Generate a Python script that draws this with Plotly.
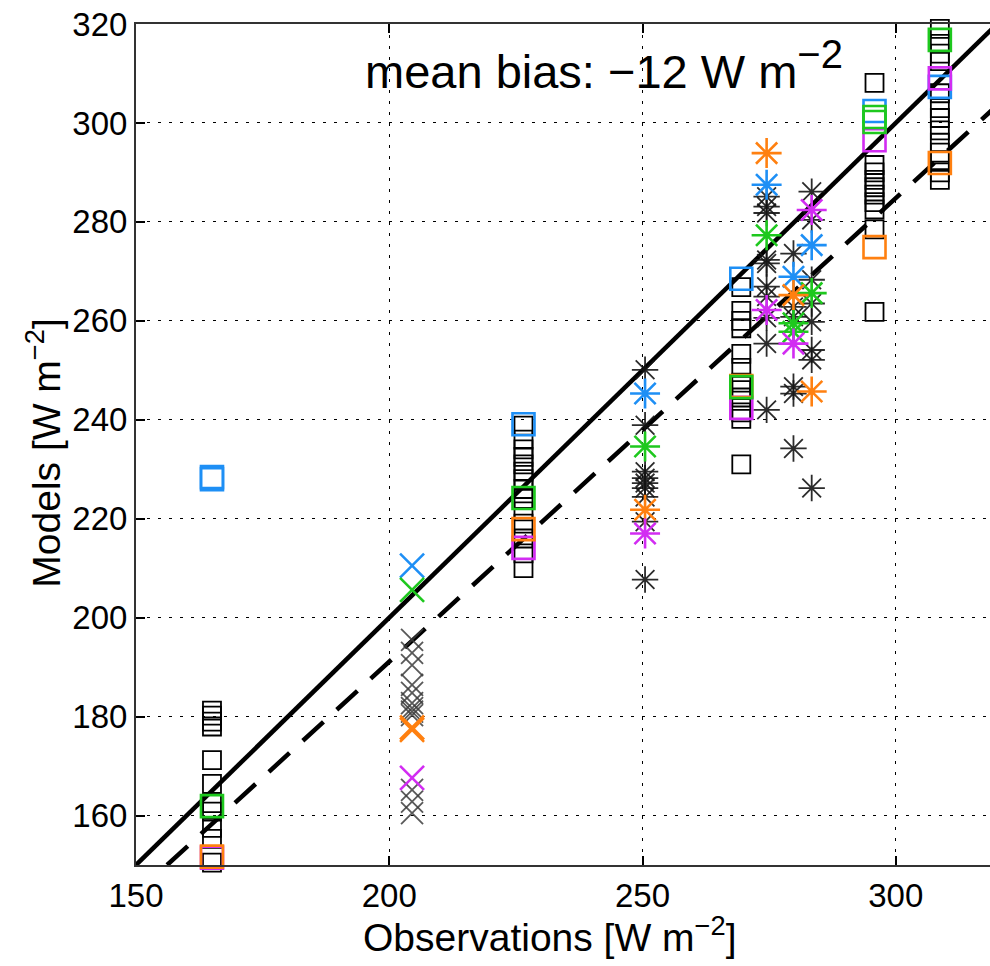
import plotly.graph_objects as go

# ---------------- data ----------------
# black open squares
sq_black_x = [165]*11 + [226.5]*14 + [269.5]*12 + [295.8]*10 + [308.7]*13
sq_black_y = [181.2, 180.2, 179, 178, 171.2, 166.4, 162.5, 160.8, 157.5, 155.3, 150.5,
              238.8, 236, 234, 232.5, 231, 229.5, 228, 226, 224, 221.5, 219, 216, 213, 210,
              266.8, 262, 260, 258.5, 253.3, 250.5, 247.5, 246, 244.5, 241.5, 240.2, 231,
              308.1, 291.5, 290, 288.5, 287, 285.5, 284, 282.5, 278.5, 261.8,
              319, 316, 314, 312.5, 306, 303, 301, 298.5, 296, 294, 292.5, 290, 288.5]

# coloured squares
sq_blue_x = [165, 165, 226.5, 269.5, 295.8, 308.7]
sq_blue_y = [228.0, 228.4, 239.1, 268.5, 302.4, 307.3]
sq_green_x = [165, 226.5, 269.5, 295.8, 295.8, 308.7]
sq_green_y = [161.9, 224.2, 246.6, 301.2, 300.2, 316.8]
sq_orange_x = [165, 226.5, 269.5, 295.8, 308.7]
sq_orange_y = [151.7, 217.9, 246.8, 274.9, 291.9]
sq_magenta_x = [165, 226.5, 269.5, 295.8, 308.7]
sq_magenta_y = [151.5, 214.1, 242.4, 296.5, 309.0]

# grey crosses
x_grey_x = [204.5]*12
x_grey_y = [195.5, 192.9, 190.4, 186.4, 184.8, 182.7, 181.7, 181, 180.3, 165.2, 162.8, 160.5]
x_blue_x, x_blue_y = [204.5], [210.5]
x_green_x, x_green_y = [204.5], [205.6]
x_orange_x, x_orange_y = [204.5, 204.5], [177.3, 177.8]
x_magenta_x, x_magenta_y = [204.5], [167.6]

# black asterisks
ast_black_x = [250.5]*9 + [274.5]*10 + [279.8]*6 + [283.4]*8
ast_black_y = [250.1, 238.9, 229.5, 228.2, 227.2, 226.2, 224.4, 219.4, 207.7,
               285.1, 283.1, 281.8, 272.3, 271.6, 266.9, 264.9, 260.6, 255.4, 242.0,
               273.6, 262.8, 260.8, 246.7, 245.3, 234.2,
               286.1, 280.4, 268.3, 263.5, 259.8, 254.1, 252.1, 226.2]
ast_blue_x = [250.5, 274.5, 279.8, 283.4]
ast_blue_y = [245.3, 287.5, 268.9, 275.3]
ast_green_x = [250.5, 274.5, 279.8, 279.8, 283.4]
ast_green_y = [234.6, 277.3, 257.8, 259.5, 265.6]
ast_orange_x = [250.5, 274.5, 279.8, 283.4]
ast_orange_y = [221.8, 293.9, 265.2, 245.7]
ast_magenta_x = [250.5, 274.5, 279.8, 283.4]
ast_magenta_y = [217.0, 262.2, 255.4, 282.4]

# reference lines
one_to_one = (1.0, 0.0)          # slope, intercept
fit_line = (0.937, 3.7)          # slope, intercept (dashed)
mean_bias = -12

x_ticks = [150, 200, 250, 300]
y_ticks = [160, 180, 200, 220, 240, 260, 280, 300, 320]
x_range = [150, 318.6]
y_range = [150, 320]

# ---------------- style ----------------
BLUE = "#1E8FF5"
GREEN = "#1EC81E"
ORANGE = "#FF8010"
MAGENTA = "#D22CF2"
FONT = "Liberation Sans, Arial, sans-serif"

fig = go.Figure()

# lines
lx = [x_range[0], 320]
fig.add_trace(go.Scatter(x=lx, y=[one_to_one[0]*v + one_to_one[1] for v in lx], mode="lines",
                         line=dict(color="black", width=4.5), showlegend=False))
fx0 = (y_range[0] - fit_line[1]) / fit_line[0]
fx = [fx0, 320]
fig.add_trace(go.Scatter(x=fx, y=[fit_line[0]*v + fit_line[1] for v in fx], mode="lines",
                         line=dict(color="black", width=4.5, dash="28px,18px"), showlegend=False))


def pts(x, y, symbol, color, size, lw):
    fig.add_trace(go.Scatter(x=x, y=y, mode="markers", cliponaxis=False, showlegend=False,
                             marker=dict(symbol=symbol, size=size, color=color,
                                         line=dict(color=color, width=lw))))


pts(sq_black_x, sq_black_y, "square-open", "black", 18, 1.8)
pts(x_grey_x, x_grey_y, "x-thin-open", "rgba(60,60,60,0.85)", 22, 1.8)
pts(ast_black_x, ast_black_y, "asterisk-open", "rgba(20,20,20,0.9)", 22, 1.8)

for sx, sy, c in [(sq_blue_x, sq_blue_y, BLUE), (sq_magenta_x, sq_magenta_y, MAGENTA),
                  (sq_orange_x, sq_orange_y, ORANGE), (sq_green_x, sq_green_y, GREEN)]:
    pts(sx, sy, "square-open", c, 22, 2.6)
for sx, sy, c in [(x_blue_x, x_blue_y, BLUE), (x_green_x, x_green_y, GREEN),
                  (x_orange_x, x_orange_y, ORANGE), (x_magenta_x, x_magenta_y, MAGENTA)]:
    pts(sx, sy, "x-thin-open", c, 24, 2.6)
for sx, sy, c in [(ast_blue_x, ast_blue_y, BLUE), (ast_green_x, ast_green_y, GREEN),
                  (ast_orange_x, ast_orange_y, ORANGE), (ast_magenta_x, ast_magenta_y, MAGENTA)]:
    pts(sx, sy, "asterisk-open", c, 25, 2.6)

grid = dict(showgrid=True, gridcolor="black", gridwidth=1.4, griddash="3px,8px")
fig.update_xaxes(range=x_range, tickvals=x_ticks, ticks="inside", ticklen=9, tickwidth=1.5,
                 tickcolor="black", showline=True, linecolor="#333", linewidth=2, mirror="ticks",
                 zeroline=False, tickfont=dict(family=FONT, size=33, color="black"), **grid)
fig.update_yaxes(range=y_range, tickvals=y_ticks, ticks="inside", ticklen=9, tickwidth=1.5,
                 tickcolor="black", showline=True, linecolor="#333", linewidth=2, mirror=False,
                 zeroline=False, tickfont=dict(family=FONT, size=33, color="black"), **grid)

fig.add_annotation(xref="paper", yref="paper", x=0.485, y=-0.083, xanchor="center", yanchor="middle",
                   text="Observations [W m<sup>−2</sup>]", showarrow=False,
                   font=dict(family=FONT, size=39, color="black"))
fig.add_annotation(xref="paper", yref="paper", x=-0.108, y=0.49, xanchor="center", yanchor="middle",
                   textangle=-90, text="Models [W m<sup>−2</sup>]", showarrow=False,
                   font=dict(family=FONT, size=39, color="black"))
fig.add_annotation(xref="x", yref="y", x=194.9, y=311.8, xanchor="left", yanchor="middle",
                   text=f"mean bias: −{abs(mean_bias)} W m<sup><span style=\"font-size:40px\">−2</span></sup>",
                   showarrow=False, font=dict(family=FONT, size=47, color="black"))

fig.update_layout(width=990, height=966, margin=dict(l=136, r=0, t=24, b=101),
                  plot_bgcolor="white", paper_bgcolor="white", showlegend=False)

fig.write_html("out.html")
